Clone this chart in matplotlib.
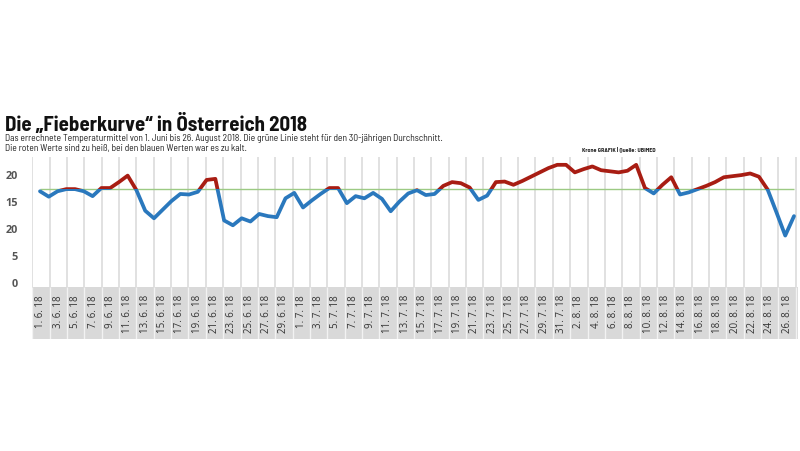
import numpy as np
import matplotlib
matplotlib.use("Agg")
import matplotlib.pyplot as plt
from matplotlib.patches import Rectangle

# Tagesmittel 1. Juni bis 26. August 2018
temps = [16.8, 15.8, 16.8, 17.2, 17.2, 16.8, 15.9, 17.4, 17.4, 18.5,
         19.7, 17.0, 13.2, 11.8, 13.4, 15.0, 16.3, 16.2, 16.7, 18.9,
         19.1, 11.4, 10.5, 11.8, 11.2, 12.6, 12.2, 12.0, 15.5, 16.5,
         13.8, 15.1, 16.3, 17.4, 17.4, 14.6, 15.9, 15.5, 16.5, 15.4,
         13.1, 14.9, 16.4, 17.0, 16.1, 16.3, 17.8, 18.5, 18.3, 17.5,
         15.2, 16.0, 18.5, 18.6, 18.0, 18.7, 19.5, 20.3, 21.1, 21.7,
         21.7, 20.3, 20.9, 21.4, 20.7, 20.5, 20.3, 20.6, 21.7, 17.4,
         16.4, 18.0, 19.4, 16.2, 16.6, 17.2, 17.8, 18.5, 19.4, 19.6,
         19.8, 20.1, 19.5, 17.1, 12.9, 8.6, 12.2]
avg_30y = 17.2  # grüne Linie: 30-jähriger Durchschnitt

date_labels = ["1. 6. 18", "3. 6. 18", "5. 6. 18", "7. 6. 18", "9. 6. 18",
               "11. 6. 18", "13. 6. 18", "15. 6. 18", "17. 6. 18", "19. 6. 18",
               "21. 6. 18", "23. 6. 18", "25. 6. 18", "27. 6. 18", "29. 6. 18",
               "1. 7. 18", "3. 7. 18", "5. 7. 18", "7. 7. 18", "9. 7. 18",
               "11. 7. 18", "13. 7. 18", "15. 7. 18", "17. 7. 18", "19. 7. 18",
               "21. 7. 18", "23. 7. 18", "25. 7. 18", "27. 7. 18", "29. 7. 18",
               "31. 7. 18", "2. 8. 18", "4. 8. 18", "6. 8. 18", "8. 8. 18",
               "10. 8. 18", "12. 8. 18", "14. 8. 18", "16. 8. 18", "18. 8. 18",
               "20. 8. 18", "22. 8. 18", "24. 8. 18", "26. 8. 18"]

# Achsenbeschriftung so wie im Original (inkl. Tippfehler)
ytick_vals = [0, 5, 10, 15, 20]
ytick_labels = ["0", "5", "20", "15", "20"]

BLUE = "#2a78bd"
RED = "#a81d13"
GREEN = "#9cca84"
COND = ["Barlow Semi Condensed", "Liberation Sans Narrow", "DejaVu Sans"]

W, H = 800, 452
fig = plt.figure(figsize=(W / 100, H / 100), dpi=100)
fig.patch.set_facecolor("white")


def box(l, t, r, b):
    return [l / W, 1 - b / H, (r - l) / W, (b - t) / H]


px_day = 8.767  # Pixel pro Tag
days = np.arange(len(temps))
xlim = (-8 / px_day, days[-1] + 4 / px_day)
cell_w = 17.35 / px_day
bounds = -7.7 / px_day + cell_w * np.arange(len(date_labels) + 1)

# Hauptdiagramm
ax = fig.add_axes(box(32, 158, 798, 288))
ax.set_xlim(*xlim)
ax.set_ylim(-5 / 5.4, 125 / 5.4)
for s in ax.spines.values():
    s.set_visible(False)
ax.set_xticks([])
ax.set_yticks(ytick_vals, ytick_labels)
ax.tick_params(axis="y", length=0, pad=10, labelsize=7.8, labelcolor="#555555")
for lab in ax.get_yticklabels():
    lab.set_fontweight("bold")
    lab.set_family("Open Sans")

ax.vlines(bounds, -1, 30, color="#dedede", lw=1.3, zorder=1)
ax.hlines(avg_30y, days[0], days[-1], color=GREEN, lw=1.0, zorder=2)

ln_blue, = ax.plot(days, temps, color=BLUE, lw=2.7, zorder=3,
                   solid_joinstyle="round", solid_capstyle="round")
ln_red, = ax.plot(days, temps, color=RED, lw=2.7, zorder=4,
                  solid_joinstyle="round", solid_capstyle="round")
ln_red.set_clip_path(Rectangle((-5, avg_30y), 100, 30, transform=ax.transData))
ln_blue.set_clip_path(Rectangle((-5, avg_30y - 30), 100, 30, transform=ax.transData))

# graue Datumsleiste
ax2 = fig.add_axes(box(32, 288, 798, 340))
ax2.set_facecolor("#d9d9d9")
ax2.set_xlim(*xlim)
ax2.set_ylim(0, 1)
ax2.set_xticks([])
ax2.set_yticks([])
for s in ax2.spines.values():
    s.set_visible(False)
ax2.vlines(bounds, 0, 1, color="#f2f2f2", lw=1.0)
centers = bounds[:-1] + cell_w / 2
for x, lab in zip(centers, date_labels):
    ax2.text(x, 1 - 7 / 52, lab, rotation=90, ha="center", va="top",
             fontsize=7, family="Open Sans", color="#333333")

# Texte
fig.text(5 / W, 1 - 131 / H, "Die „Fieberkurve“ in Österreich 2018",
         fontsize=15, fontweight="bold", family=COND, va="baseline", color="#111111")
fig.text(5 / W, 1 - 141.3 / H,
         "Das errechnete Temperaturmittel von 1. Juni bis 26. August 2018. "
         "Die grüne Linie steht für den 30-jährigen Durchschnitt.",
         fontsize=6.8, family=COND, va="baseline", color="#222222")
fig.text(5 / W, 1 - 150.5 / H,
         "Die roten Werte sind zu heiß, bei den blauen Werten war es zu kalt.",
         fontsize=6.8, family=COND, va="baseline", color="#222222")
fig.text(582 / W, 1 - 151 / H, "Krone GRAFIK | Quelle: UBIMED",
         fontsize=4.3, fontweight="bold", family=COND, va="baseline", color="#222222")

fig.savefig("out.png", dpi=100, facecolor="white")
